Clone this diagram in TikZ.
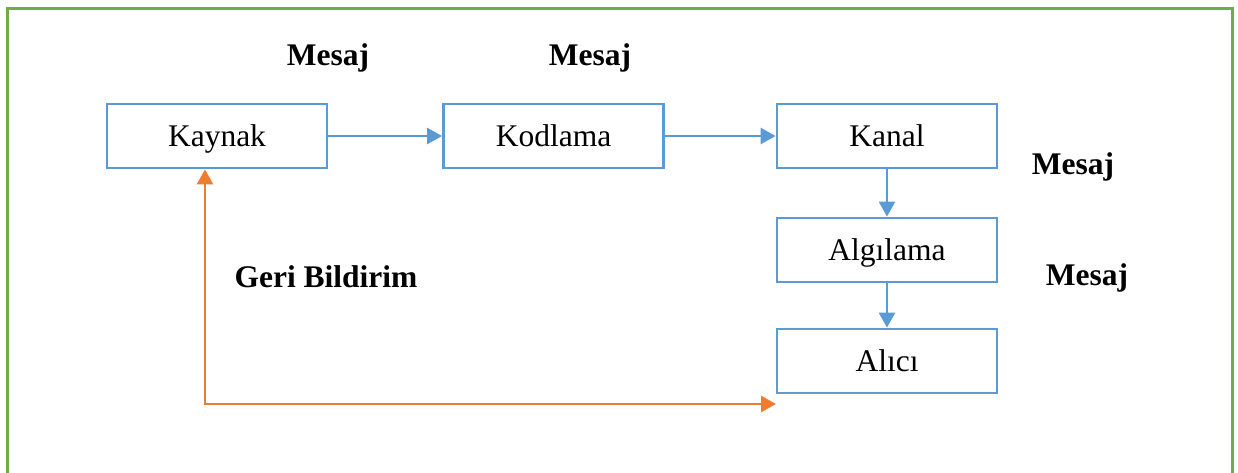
\documentclass[tikz,border=0pt]{standalone}
\usepackage{fontspec}
\setmainfont{Liberation Serif}
\usetikzlibrary{arrows.meta}
\definecolor{boxblue}{RGB}{91,155,213}
\definecolor{fborange}{RGB}{237,125,49}
\definecolor{framegreen}{RGB}{112,173,71}
\tikzset{
  stage/.style={draw=boxblue, line width=2.8pt, minimum width=220pt, minimum height=64pt,
    inner sep=0pt, text height=22pt, text depth=2pt,
    font=\fontsize{31.5}{36}\selectfont},
  flow/.style={draw=boxblue, line width=2.6pt, -{Triangle[length=15pt,width=16pt]}},
  feedback/.style={draw=fborange, line width=2.6pt,
    {Triangle[length=15pt,width=16pt]}-{Triangle[length=15pt,width=16pt]}},
  tag/.style={font=\fontsize{31.5}{36}\selectfont\bfseries, inner sep=0pt}
}
\begin{document}
\begin{tikzpicture}[x=1pt,y=-1pt]
  \useasboundingbox (0,0) rectangle (1238,472);
  \fill[white] (0,0) rectangle (1238,472);
  % outer frame
  \draw[framegreen, line width=3pt] (7,8) rectangle (1232,500);

  % stages of the communication process
  \node[stage] (src)  at (217,136) {Kaynak};
  \node[stage] (enc)  at (553.5,136) {Kodlama};
  \node[stage] (chan) at (887,136) {Kanal};
  \node[stage] (dec)  at (887,250) {Algılama};
  \node[stage] (rcv)  at (887,361) {Alıcı};

  % message labels
  \node[tag] (m1) at (328,58) {Mesaj};
  \node[tag] (m2) at (590,58) {Mesaj};
  \node[tag] (m3) at (1073,167) {Mesaj};
  \node[tag] (m4) at (1087,278) {Mesaj};
  \node[tag] (fb) at (326,277) {Geri Bildirim};

  % forward flow
  \draw[flow] (src.east) -- (enc.west);
  \draw[flow] (enc.east) -- (chan.west);
  \draw[flow] (chan.south) -- (dec.north);
  \draw[flow] (dec.south) -- (rcv.north);

  % feedback loop
  \coordinate (fbend) at (776,404);
  \draw[feedback] (src.south -| 205,0) -- (205,404) -- (fbend);
\end{tikzpicture}
\end{document}
